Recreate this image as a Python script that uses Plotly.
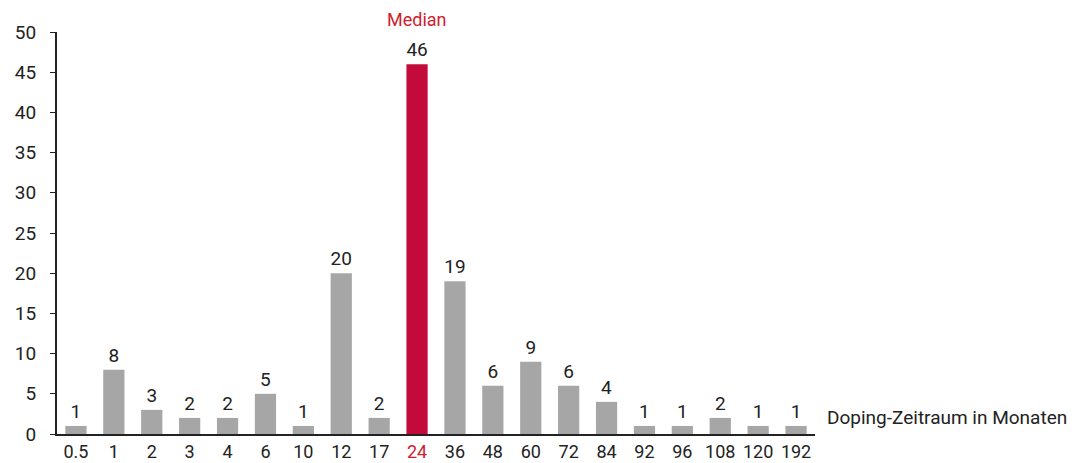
import plotly.graph_objects as go

categories = ["0.5", "1", "2", "3", "4", "6", "10", "12", "17", "24", "36", "48", "60", "72", "84", "92", "96", "108", "120", "192"]
values = [1, 8, 3, 2, 2, 5, 1, 20, 2, 46, 19, 6, 9, 6, 4, 1, 1, 2, 1, 1]
median_category = "24"
x_title = "Doping-Zeitraum in Monaten"
median_label = "Median"

GRAY = "#a6a6a6"
RED = "#c20b3b"
RED_TEXT = "#d0202e"
FONT = "Roboto"
TXT = "#222222"

median_idx = categories.index(median_category)
colors = [RED if c == median_category else GRAY for c in categories]
ticktext = [f'<span style="color:{RED_TEXT}">{c}</span>' if c == median_category else c for c in categories]
xpos = list(range(len(categories)))

fig = go.Figure()
fig.add_trace(go.Bar(
    x=xpos, y=values,
    marker=dict(color=colors, line=dict(width=0)),
    text=[str(v) for v in values], textposition="outside",
    textfont=dict(family=FONT, size=19, color=TXT),
    constraintext="none",
    cliponaxis=False,
))
fig.add_annotation(x=median_idx, y=values[median_idx],
                   text=median_label, showarrow=False, yshift=45, yanchor="middle",
                   font=dict(family=FONT, size=18, color=RED_TEXT))
fig.add_annotation(xref="paper", yref="y", x=1.0, y=2, xanchor="left", yanchor="middle",
                   xshift=10, text=x_title, showarrow=False,
                   font=dict(family=FONT, size=19, color=TXT))

fig.update_layout(
    width=1075, height=463,
    margin=dict(l=57, r=260, t=32, b=29),
    paper_bgcolor="white", plot_bgcolor="white",
    bargap=0.44, showlegend=False,
    font=dict(family=FONT, size=19, color=TXT),
)
fig.update_xaxes(tickmode="array", tickvals=xpos, ticktext=ticktext,
                 range=[-0.5, len(categories) - 0.5], tickangle=0, automargin=False,
                 showline=True, linecolor=TXT, linewidth=2, ticks="", showgrid=False, zeroline=False,
                 tickfont=dict(family=FONT, size=18, color=TXT))
fig.update_yaxes(range=[0, 50], dtick=5, showline=True, linecolor=TXT, linewidth=2,
                 ticks="outside", ticklen=5, tickcolor=TXT, showgrid=False, zeroline=False,
                 automargin=False, ticklabelstandoff=10,
                 tickfont=dict(family=FONT, size=19, color=TXT))

fig.write_html("out.html")
